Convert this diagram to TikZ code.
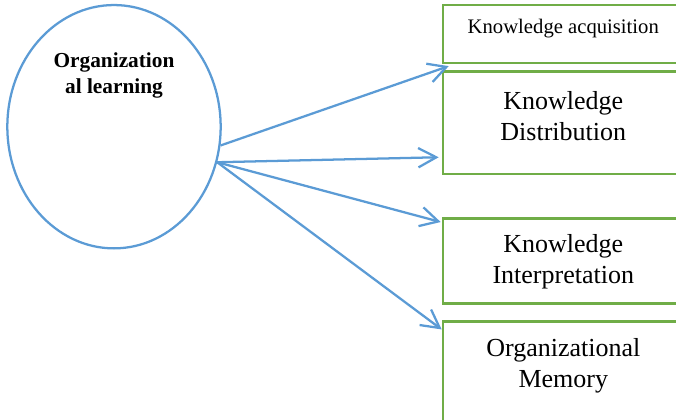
\documentclass[tikz,border=0pt]{standalone}
\usepackage{fontspec}
\setmainfont{Liberation Serif}
\usetikzlibrary{shapes.geometric,arrows.meta,calc}
\definecolor{lineblue}{HTML}{5B9BD5}
\definecolor{boxgreen}{HTML}{70AD47}

\begin{document}
\begin{tikzpicture}[x=0.75pt,y=-0.75pt,
    stagebox/.style={rectangle,draw=boxgreen,line width=1.9pt,minimum width=180.5pt,inner sep=0pt},
    bigtext/.style={align=center,font=\fontsize{19.5}{23.25}\selectfont},
    link/.style={draw=lineblue,line width=1.7pt,-{Straight Barb[length=13.5pt,width=14.5pt]}}]

    \useasboundingbox (0,0) rectangle (676,419);
    \clip (0,0) rectangle (676,419);

    \node(org) [ellipse,draw=lineblue,line width=1.7pt,inner sep=0pt,
      minimum width=160pt,minimum height=182.5pt] at (114,126.7) {};
    \node(orglbl) [align=center,font=\fontsize{16}{19.5}\selectfont\bfseries] at (114,75) {
      Organization\\al learning
    };

    \node(acq) [stagebox,minimum height=43.3pt] at (563.3,34) {};
    \node(dist) [stagebox,minimum height=76.7pt] at (563.3,122.85) {};
    \node(interp) [stagebox,minimum height=63.75pt] at (563.3,260.8) {};
    \node(mem) [stagebox,minimum height=88.7pt] at (563.3,380.85) {};

    \node(acqlbl) [font=\fontsize{15.5}{18}\selectfont] at (563.3,29) {Knowledge acquisition};
    \node(distlbl) [bigtext] at (563.3,116) {Knowledge\\Distribution};
    \node(interplbl) [bigtext] at (563.3,262) {Knowledge\\Interpretation};
    \node(memlbl) [bigtext] at (563.3,365.5) {Organizational\\Memory};

    % arrow ends near the boxes
    \coordinate (e1) at ($(acq.south west)+(7,2)$);
    \coordinate (e2) at ($(dist.south west)+(-3,-18)$);
    \coordinate (e3) at ($(interp.north west)+(-1,5)$);
    \coordinate (e4) at ($(mem.north west)+(0,9)$);

    \draw[link] (org.-10) -- (e1);
    \draw[link] (org.-19) -- (e2);
    \draw[link] (org.-19) -- (e3);
    \draw[link] (org.-19) -- (e4);

\end{tikzpicture}
\end{document}
